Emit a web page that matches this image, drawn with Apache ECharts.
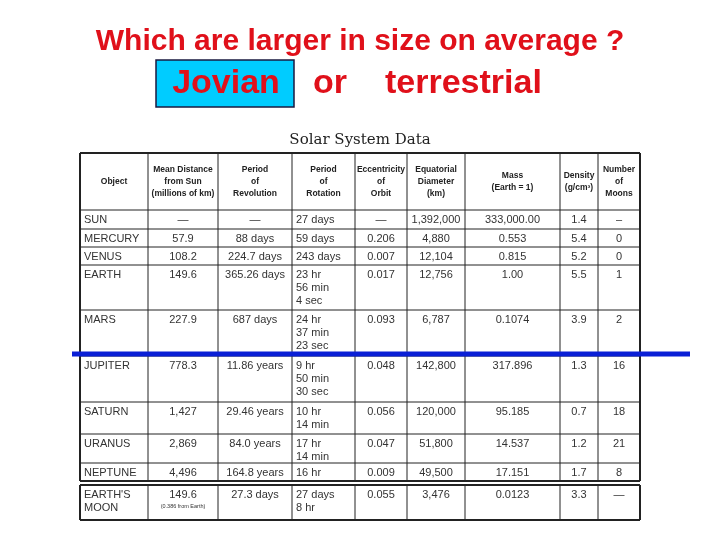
<!DOCTYPE html>
<html>
<head>
<meta charset="utf-8">
<script src="https://cdn.jsdelivr.net/npm/echarts@6/dist/echarts.min.js"></script>
<style>html,body{margin:0;padding:0;background:#fff}#main{width:720px;height:540px}</style>
</head>
<body>
<div id="main"></div>
<script>
var headers = ['Object', 'Mean Distance\nfrom Sun\n(millions of km)', 'Period\nof\nRevolution', 'Period\nof\nRotation',
	'Eccentricity\nof\nOrbit', 'Equatorial\nDiameter\n(km)', 'Mass\n(Earth = 1)', 'Density\n(g/cm³)', 'Number\nof\nMoons'];
var objects = ['SUN', 'MERCURY', 'VENUS', 'EARTH', 'MARS', 'JUPITER', 'SATURN', 'URANUS', 'NEPTUNE', "EARTH'S\nMOON"];
var distance = ['—', '57.9', '108.2', '149.6', '227.9', '778.3', '1,427', '2,869', '4,496', '149.6'];
var revolution = ['—', '88 days', '224.7 days', '365.26 days', '687 days', '11.86 years', '29.46 years', '84.0 years', '164.8 years', '27.3 days'];
var rotation = ['27 days', '59 days', '243 days', '23 hr\n56 min\n4 sec', '24 hr\n37 min\n23 sec', '9 hr\n50 min\n30 sec',
	'10 hr\n14 min', '17 hr\n14 min', '16 hr', '27 days\n8 hr'];
var eccentricity = ['—', '0.206', '0.007', '0.017', '0.093', '0.048', '0.056', '0.047', '0.009', '0.055'];
var diameter = ['1,392,000', '4,880', '12,104', '12,756', '6,787', '142,800', '120,000', '51,800', '49,500', '3,476'];
var mass = ['333,000.00', '0.553', '0.815', '1.00', '0.1074', '317.896', '95.185', '14.537', '17.151', '0.0123'];
var density = ['1.4', '5.4', '5.2', '5.5', '3.9', '1.3', '0.7', '1.2', '1.7', '3.3'];
var moons = ['–', '0', '0', '1', '2', '16', '18', '21', '8', '—'];

var colX = [80, 148, 218, 292, 355, 407, 465, 560, 598, 640];
var rowY = [153, 210, 229, 247, 265, 310, 356, 402, 434, 463, 481, 485, 520];

var columns = [objects, distance, revolution, rotation, eccentricity, diameter, mass, density, moons];
var els = [];

// 表头
for (var c = 0; c < headers.length; c++) {
	els.push({type: 'text', x: (colX[c] + colX[c + 1]) / 2, y: (rowY[0] + rowY[1]) / 2,
		style: {text: headers[c], font: 'bold 8.5px "Liberation Sans Narrow", Arial', fill: '#222',
			align: 'center', verticalAlign: 'middle', lineHeight: 12}});
}
// 表格内容
for (var r = 0; r < objects.length; r++) {
	var cellTop = r < 9 ? rowY[r + 1] : rowY[11];
	for (var c = 0; c < columns.length; c++) {
		var alignLeft = c === 0 || c === 3;
		els.push({type: 'text', x: alignLeft ? colX[c] + 4 : (colX[c] + colX[c + 1]) / 2, y: cellTop + 3,
			style: {text: columns[c][r], font: '11px "Liberation Sans", Arial', fill: '#333',
				align: alignLeft ? 'left' : 'center', verticalAlign: 'top', lineHeight: 13}});
	}
}
els.push({type: 'text', x: (colX[1] + colX[2]) / 2, y: 503,
	style: {text: '(0.386 from Earth)', font: '5.5px Arial', fill: '#333', align: 'center'}});

// 网格线
function hline(y, x1, x2, w) { els.push({type: 'line', shape: {x1: x1, y1: y, x2: x2, y2: y}, style: {stroke: '#222', lineWidth: w || 1}}); }
function vline(x, y1, y2, w) { els.push({type: 'line', shape: {x1: x, y1: y1, x2: x, y2: y2}, style: {stroke: '#222', lineWidth: w || 1}}); }
for (var i = 0; i <= 10; i++) hline(rowY[i], colX[0], colX[9], i === 0 || i === 10 ? 2 : 1);
hline(rowY[11], colX[0], colX[9], 2);
hline(rowY[12], colX[0], colX[9], 2);
for (var c = 0; c < colX.length; c++) {
	var w = c === 0 || c === 9 ? 2 : 1;
	vline(colX[c], rowY[0], rowY[10], w);
	vline(colX[c], rowY[11], rowY[12], w);
}

// 蓝色分隔线
els.push({type: 'line', shape: {x1: 72, y1: 354, x2: 690, y2: 354}, style: {stroke: '#0a1fd6', lineWidth: 5}});

// 标题
els.push({type: 'text', x: 360, y: 42, style: {text: 'Which are larger in size on average ?',
	font: 'bold 30px "Liberation Sans", Arial', fill: '#e0101a', align: 'center', verticalAlign: 'middle'}});
els.push({type: 'rect', shape: {x: 156, y: 60, width: 138, height: 47},
	style: {fill: '#00ccff', stroke: '#1a1a40', lineWidth: 1.5}});
els.push({type: 'text', x: 226, y: 84, style: {text: 'Jovian', font: 'bold 34px "Liberation Sans", Arial',
	fill: '#e0101a', align: 'center', verticalAlign: 'middle'}});
els.push({type: 'text', x: 313, y: 84, style: {text: 'or', font: 'bold 34px "Liberation Sans", Arial',
	fill: '#e0101a', align: 'left', verticalAlign: 'middle'}});
els.push({type: 'text', x: 385, y: 84, style: {text: 'terrestrial', font: 'bold 34px "Liberation Sans", Arial',
	fill: '#e0101a', align: 'left', verticalAlign: 'middle'}});
els.push({type: 'text', x: 360, y: 140, style: {text: 'Solar System Data', font: '15px "DejaVu Serif", serif',
	fill: '#222', align: 'center', verticalAlign: 'middle'}});

var chart = echarts.init(document.getElementById('main'));
chart.setOption({animation: false, graphic: {elements: els}});
</script>
</body>
</html>
